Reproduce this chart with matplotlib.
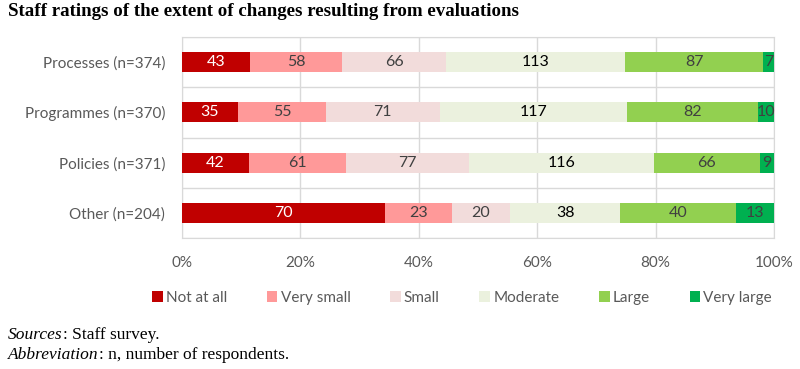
import numpy as np
import matplotlib.pyplot as plt
from matplotlib.patches import Patch

categories = ['Processes (n=374)', 'Programmes (n=370)', 'Policies (n=371)', 'Other (n=204)']
levels = ['Not at all', 'Very small', 'Small', 'Moderate', 'Large', 'Very large']
not_at_all = [43, 35, 42, 70]
very_small = [58, 55, 61, 23]
small = [66, 71, 77, 20]
moderate = [113, 117, 116, 38]
large = [87, 82, 66, 40]
very_large = [7, 10, 9, 13]

colors = ['#C00000', '#FF9999', '#F2DCDB', '#EBF1DE', '#92D050', '#00B050']
text_colors = ['white', '#404040', '#404040', 'black', '#404040', '#404040']

series = [not_at_all, very_small, small, moderate, large, very_large]
counts = np.array(series, dtype=float)
totals = counts.sum(axis=0)
shares = counts / totals * 100

label_font = 'Lato'
fig = plt.figure(figsize=(8, 3.69), dpi=100)
ax = fig.add_axes([182 / 800, 1 - 238 / 369, 592 / 800, 201 / 369])

y = np.arange(len(categories))
left = np.zeros(len(categories))
for i, name in enumerate(levels):
    ax.barh(y, shares[i], left=left, height=0.4, color=colors[i], zorder=3)
    for j in range(len(categories)):
        ax.text(left[j] + shares[i][j] / 2, y[j], f'{int(counts[i][j])}',
                ha='center', va='center', fontsize=11.5, color=text_colors[i],
                family=label_font, zorder=4)
    left += shares[i]

ax.set_xlim(0, 100)
ax.set_ylim(3.5, -0.5)
ax.set_xticks(np.arange(0, 101, 20))
ax.set_xticklabels([f'{v}%' for v in range(0, 101, 20)], family=label_font,
                   fontsize=11, color='#595959')
ax.set_yticks(y)
ax.set_yticklabels(categories, family=label_font, fontsize=11, color='#595959')
ax.tick_params(axis='y', length=0, pad=12)
ax.tick_params(axis='x', length=0, pad=13)
ax.set_yticks(np.arange(-0.5, 4, 1), minor=True)
ax.tick_params(which='minor', length=0)
ax.grid(axis='x', color='#D9D9D9', linewidth=1, zorder=0)
ax.grid(axis='y', which='minor', color='#D9D9D9', linewidth=1, zorder=0)
for s in ax.spines.values():
    s.set_color('#D9D9D9')

fig.text(8 / 800, 1 - 12 / 369, 'Staff ratings of the extent of changes resulting from evaluations',
         family='Liberation Serif', fontweight='bold', fontsize=13.6, va='center', ha='left')

handles = [Patch(facecolor=c, edgecolor='none') for c in colors]
fig.legend(handles, levels, loc='center', bbox_to_anchor=(462 / 800, 1 - 298 / 369), ncol=6,
           frameon=False, prop={'family': label_font, 'size': 11}, handlelength=0.7,
           handleheight=0.7, handletextpad=0.2, columnspacing=2.6, labelcolor='#595959')

t1 = fig.text(8 / 800, 1 - 335 / 369, 'Sources', family='Liberation Serif', style='italic',
              fontsize=12.5, va='center')
ax.annotate(': Staff survey.', xy=(1, 0.5), xycoords=t1, va='center',
            family='Liberation Serif', fontsize=12.5, annotation_clip=False)
t2 = fig.text(8 / 800, 1 - 355 / 369, 'Abbreviation', family='Liberation Serif', style='italic',
              fontsize=12.5, va='center')
ax.annotate(': n, number of respondents.', xy=(1, 0.5), xycoords=t2, va='center',
            family='Liberation Serif', fontsize=12.5, annotation_clip=False)

fig.savefig('out.png', dpi=100)
